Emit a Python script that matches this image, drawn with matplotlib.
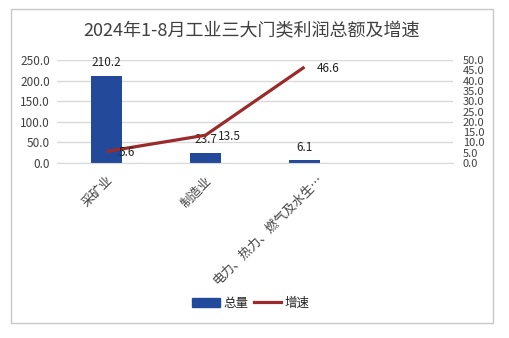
import matplotlib
matplotlib.use("Agg")
import matplotlib.pyplot as plt
import matplotlib.transforms as mtransforms
from matplotlib.patches import Rectangle
from matplotlib.lines import Line2D
from matplotlib.patches import Patch

plt.rcParams['font.family'] = ['Noto Sans CJK SC', 'DejaVu Sans']

categories = ["采矿业", "制造业", "电力、热力、燃气及水生…"]
totals = [210.2, 23.7, 6.1]
growth = [5.6, 13.5, 46.6]
left_ticks = [0, 50, 100, 150, 200, 250]
right_ticks = [0, 5, 10, 15, 20, 25, 30, 35, 40, 45, 50]

bar_color = "#22499a"
line_color = "#9b2a2a"
text_color = "#404040"
grid_color = "#d9d9d9"

fig = plt.figure(figsize=(5.10, 3.38), dpi=100)
fig.patch.set_facecolor("white")

# chart frame
fig.add_artist(Rectangle((11 / 510, 1 - 323 / 338), 482 / 510, 314 / 338,
                         transform=fig.transFigure, fill=False,
                         edgecolor="#c8c8c8", linewidth=1.0))

fig.text(252 / 510, 1 - 31 / 338, "2024年1-8月工业三大门类利润总额及增速",
         fontsize=13, color=text_color, ha="center", va="center")

ax = fig.add_axes([57 / 510, 1 - 163 / 338, 396 / 510, 103 / 338])
x = list(range(len(categories)))
ax.bar(x, totals, width=0.31, color=bar_color, zorder=2)
ax.set_xlim(-0.5, 3.5)
ax.set_ylim(0, 250)
ax.set_yticks(left_ticks)
ax.set_yticklabels([f"{v:.1f}" for v in left_ticks], fontsize=8.5, color=text_color)
ax.yaxis.grid(True, color=grid_color, linewidth=1.0, zorder=0)
ax.set_axisbelow(True)
for s in ["left", "right", "top"]:
    ax.spines[s].set_visible(False)
ax.spines["bottom"].set_color(grid_color)
ax.tick_params(axis="both", length=0, pad=5)
ax.set_xticks(x)
ax.set_xticklabels(categories, rotation=45, ha="right", va="top",
                   rotation_mode="anchor", fontsize=9, color=text_color)
ax.tick_params(axis="x", pad=8)
# the long truncated label sits a little further right
long_lbl = ax.get_xticklabels()[2]
long_lbl.set_transform(long_lbl.get_transform() +
                       mtransforms.ScaledTranslation(12 / 100, 2 / 100, fig.dpi_scale_trans))

for xi, v in zip(x, totals):
    ax.annotate(f"{v:.1f}", (xi, v), xytext=(0, 5), textcoords="offset points",
                ha="center", va="bottom", fontsize=8.5, color="#222222")

ax2 = ax.twinx()
ax2.plot(x, growth, color=line_color, linewidth=2.3, solid_capstyle="butt", zorder=3)
ax2.set_ylim(0, 50)
ax2.set_yticks(right_ticks)
ax2.set_yticklabels([f"{v:.1f}" for v in right_ticks], fontsize=8, color=text_color)
ax2.tick_params(axis="y", length=0, pad=7)
for s in ["left", "right", "top", "bottom"]:
    ax2.spines[s].set_visible(False)

for xi, v in zip(x, growth):
    ax2.annotate(f"{v:.1f}", (xi, v), xytext=(9, -1), textcoords="offset points",
                 ha="left", va="center", fontsize=8.5, color="#222222")

handles = [Patch(facecolor=bar_color, edgecolor=bar_color),
           Line2D([0], [0], color=line_color, linewidth=2.3)]
fig.legend(handles, ["总量", "增速"], loc="center", bbox_to_anchor=(251 / 510, 1 - 303 / 338),
           ncol=2, frameon=False, fontsize=9, handlelength=2.2, handletextpad=0.3,
           columnspacing=0.4, labelcolor="#222222")

fig.savefig("out.png", dpi=100, facecolor="white")
